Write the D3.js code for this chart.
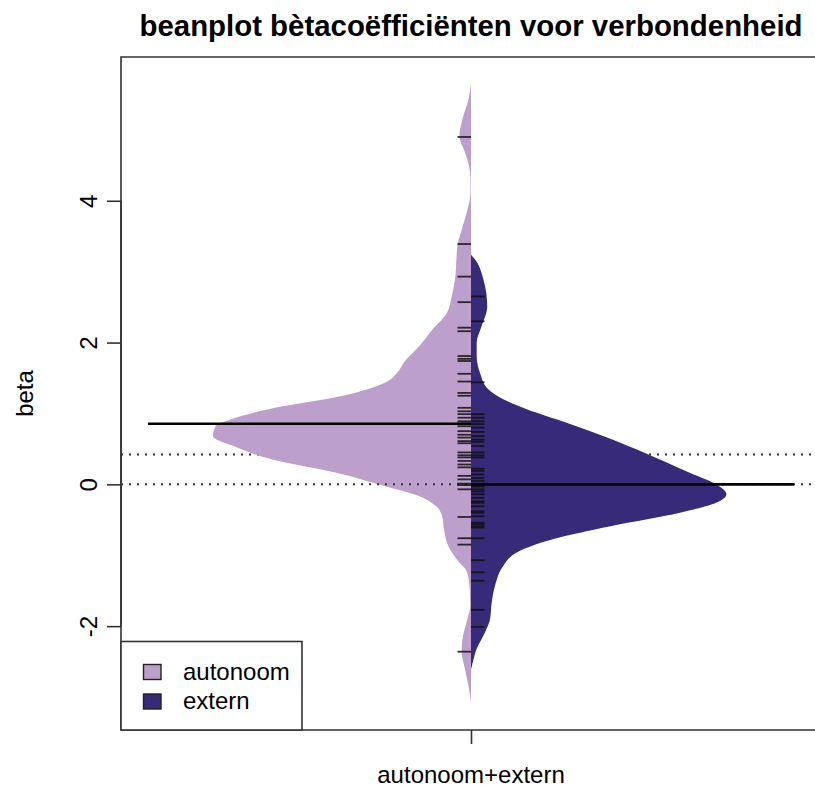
<!DOCTYPE html>
<html><head><meta charset="utf-8">
<script src="https://cdn.jsdelivr.net/npm/d3@7"></script>
<style>
body{margin:0;background:#fff;overflow:hidden}
svg{display:block}
text{font-family:"Liberation Sans",Arial,Helvetica,sans-serif;fill:#000}
</style>
</head><body>
<svg id="chart" width="815" height="787"></svg>
<script>
// ---------------- data ----------------
const categories = ["autonoom", "extern"];
const groupLabel = "autonoom+extern";
const titleText = "beanplot bètacoëfficiënten voor verbondenheid";
const yLabel = "beta";
const yTicks = [-2, 0, 2, 4];

// individual beta values (rug lines)
const autonoomBeta = [4.90, 3.39, 2.93, 2.57, 2.21, 2.16, 1.81, 1.77, 1.74, 1.56, 1.45, 1.29, 1.25,
  1.08, 1.03, 0.99, 0.94, 0.89, 0.86, 0.82, 0.75, 0.70, 0.66, 0.61, 0.58, 0.45, 0.41, 0.38, 0.33,
  0.28, 0.24, 0.12, 0.07, 0.01, -0.01, -0.07, -0.46, -0.76, -0.85, -2.36];
const externBeta = [2.65, 2.30, 1.44, 0.99, 0.94, 0.89, 0.85, 0.80, 0.74, 0.68, 0.63, 0.60, 0.54,
  0.45, 0.41, 0.38, 0.22, 0.19, 0.14, 0.09, 0.05, 0.00, -0.03, -0.07, -0.10, -0.14, -0.19, -0.24,
  -0.26, -0.31, -0.38, -0.40, -0.45, -0.54, -0.56, -0.59, -0.61, -0.76, -1.07, -1.24, -1.36, -1.77, -2.01];

// density outlines (relative density at beta)
const autonoomDensBeta = [5.66, 5.42, 5.19, 4.91, 4.68, 4.48, 4.30, 4.11, 3.83, 3.59, 3.36, 3.07, 2.89,
  2.65, 2.42, 2.18, 1.95, 1.72, 1.58, 1.44, 1.24, 1.10, 0.92, 0.82, 0.68, 0.54, 0.35, 0.17, -0.02,
  -0.16, -0.31, -0.45, -0.63, -0.87, -1.06, -1.24, -1.48, -1.71, -1.94, -2.18, -2.37, -2.61, -2.84, -3.07];
const autonoomDens = [0, 0.010, 0.030, 0.045, 0.023, 0.007, 0.002, 0.002, 0.017, 0.036, 0.053, 0.058, 0.062,
  0.075, 0.093, 0.150, 0.200, 0.260, 0.285, 0.330, 0.510, 0.730, 0.930, 0.990, 1.000, 0.920, 0.770, 0.530, 0.340,
  0.205, 0.135, 0.112, 0.105, 0.088, 0.055, 0.015, 0.005, 0.003, 0.017, 0.033, 0.036, 0.023, 0.010, 0];
const externDensBeta = [3.24, 3.17, 2.89, 2.51, 2.23, 2.00, 1.81, 1.57, 1.34, 1.20, 1.06, 0.87, 0.63,
  0.45, 0.16, 0.00, -0.14, -0.26, -0.40, -0.59, -0.77, -0.96, -1.15, -1.43, -1.67, -1.90, -2.09, -2.32, -2.51, -2.61];
const externDens = [0, 0.016, 0.048, 0.063, 0.041, 0.022, 0.022, 0.035, 0.067, 0.125, 0.216, 0.370, 0.550,
  0.670, 0.850, 0.950, 0.990, 0.950, 0.810, 0.540, 0.320, 0.177, 0.125, 0.093, 0.080, 0.074, 0.054, 0.022, 0.007, 0];

const groupMeans = [0.855, 0.0];
const overallMean = 0.42;
const referenceLine = 0;

// ---------------- layout ----------------
const W = 815, H = 787;
const plot = {left: 121, right: 821, top: 57, bottom: 730};
const colors = ["#bc9fcb", "#372a78"];
const svg = d3.select("#chart");

const y = d3.scaleLinear().domain([-3.465, 6.028]).range([plot.bottom, plot.top]);
const x = d3.scalePoint().domain([groupLabel]).range([plot.left, plot.right]).padding(0.5);
const dens = d3.scaleLinear().domain([0, 1]).range([0, 258]);
const cx = x(groupLabel);
const meanHalf = 323;
const rugLen = 13.5;

svg.append("clipPath").attr("id", "pc").append("rect")
  .attr("x", plot.left).attr("y", plot.top)
  .attr("width", plot.right - plot.left).attr("height", plot.bottom - plot.top);
const g = svg.append("g").attr("clip-path", "url(#pc)");

// overall mean line (dotted, beneath beans)
g.append("line").attr("x1", plot.left).attr("x2", plot.right)
  .attr("y1", y(overallMean)).attr("y2", y(overallMean))
  .attr("stroke", "#333").attr("stroke-width", 2).attr("stroke-dasharray", "2,6");

// beans
const beans = [
  {beta: autonoomDensBeta, d: autonoomDens, side: -1, color: colors[0]},
  {beta: externDensBeta, d: externDens, side: 1, color: colors[1]}
];
beans.forEach(b => {
  const pts = b.beta.map((v, i) => [v, b.d[i]]);
  const area = d3.area()
    .y(p => y(p[0]))
    .x0(cx)
    .x1(p => cx + b.side * dens(p[1]))
    .curve(d3.curveMonotoneY);
  g.append("path").datum(pts.slice().sort((a, c) => c[0] - a[0]))
    .attr("d", area).attr("fill", b.color);
});

// reference line at 0 (dotted, above beans)
g.append("line").attr("x1", plot.left).attr("x2", plot.right)
  .attr("y1", y(referenceLine)).attr("y2", y(referenceLine))
  .attr("stroke", "#333").attr("stroke-width", 2).attr("stroke-dasharray", "2,6");

// rug lines
[[autonoomBeta, -1], [externBeta, 1]].forEach(([arr, side]) => {
  g.selectAll(null).data(arr).enter().append("line")
    .attr("x1", cx).attr("x2", cx + side * rugLen)
    .attr("y1", d => y(d)).attr("y2", d => y(d))
    .attr("stroke", "#111").attr("stroke-opacity", 0.85).attr("stroke-width", 1.8);
});

// group means
groupMeans.forEach((m, i) => {
  const side = i === 0 ? -1 : 1;
  g.append("line").attr("x1", cx).attr("x2", cx + side * meanHalf)
    .attr("y1", y(m)).attr("y2", y(m))
    .attr("stroke", "#000").attr("stroke-width", 2.6);
});

// frame (right side lies outside the picture)
svg.append("path")
  .attr("d", `M${W + 5},${plot.top}H${plot.left}V${plot.bottom}H${W + 5}`)
  .attr("fill", "none").attr("stroke", "#333").attr("stroke-width", 1.6);

// y axis
const yAxis = svg.append("g").attr("transform", `translate(${plot.left},0)`)
  .call(d3.axisLeft(y).tickValues(yTicks).tickSize(14).tickFormat(d => String(d)));
yAxis.select(".domain").attr("d", `M0,${y(yTicks[0])}V${y(yTicks[yTicks.length - 1])}`)
  .attr("stroke", "#333").attr("stroke-width", 1.6);
yAxis.selectAll(".tick line").attr("stroke", "#333").attr("stroke-width", 1.6);
yAxis.selectAll(".tick text")
  .attr("x", null).attr("dy", null)
  .attr("transform", "translate(-24,0) rotate(-90)")
  .attr("text-anchor", "middle")
  .style("font-size", "24px").style("font-family", "'Liberation Sans',Arial,sans-serif")
  .attr("fill", "#000");

// x axis
const xAxis = svg.append("g").attr("transform", `translate(0,${plot.bottom})`)
  .call(d3.axisBottom(x).tickSize(14).tickFormat(() => ""));
xAxis.select(".domain").remove();
xAxis.selectAll(".tick line").attr("stroke", "#333").attr("stroke-width", 1.6);
svg.append("text").attr("x", cx).attr("y", 783).attr("text-anchor", "middle")
  .style("font-size", "24px").text(groupLabel);

// y label
svg.append("text").attr("transform", `translate(33,${(plot.top + plot.bottom) / 2}) rotate(-90)`)
  .attr("text-anchor", "middle").style("font-size", "24px").text(yLabel);

// title
svg.append("text").attr("x", cx).attr("y", 36).attr("text-anchor", "middle")
  .style("font-size", "29.4px").style("font-weight", "bold").text(titleText);

// legend
const lg = svg.append("g");
lg.append("rect").attr("x", 121).attr("y", 641.5).attr("width", 181).attr("height", plot.bottom - 641.5)
  .attr("fill", "#fff").attr("stroke", "#333").attr("stroke-width", 1.6);
categories.forEach((c, i) => {
  lg.append("rect").attr("x", 143.5).attr("y", 664.5 + i * 29.5).attr("width", 17.5).attr("height", 15)
    .attr("fill", colors[i]).attr("stroke", "#222").attr("stroke-width", 1.4);
  lg.append("text").attr("x", 183).attr("y", 680 + i * 28.5).style("font-size", "24px").text(c);
});
</script>
</body></html>
